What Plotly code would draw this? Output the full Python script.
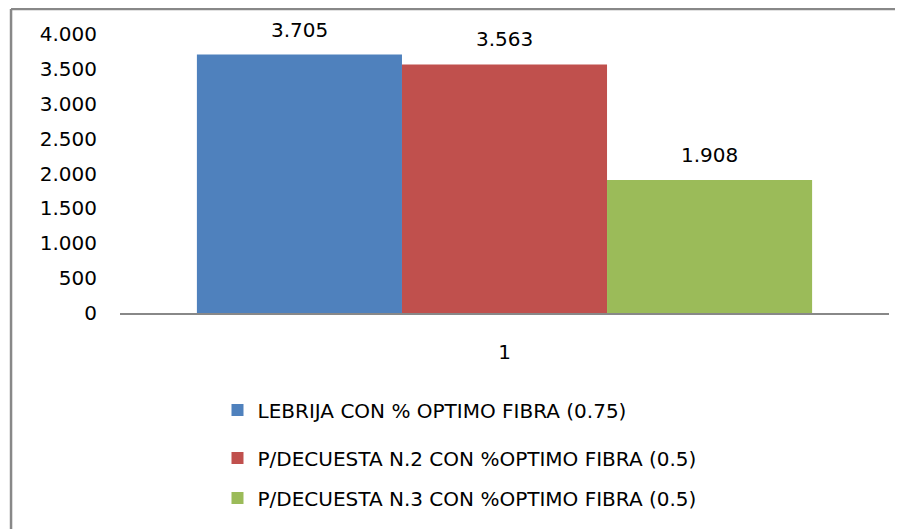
import plotly.graph_objects as go

categories = ["1"]
series_names = [
    "LEBRIJA CON % OPTIMO FIBRA (0.75)",
    "P/DECUESTA N.2 CON %OPTIMO FIBRA (0.5)",
    "P/DECUESTA N.3 CON %OPTIMO FIBRA (0.5)",
]
series_values = [3705, 3563, 1908]
series_labels = ["3.705", "3.563", "1.908"]
colors = ["#4F81BD", "#C0504D", "#9BBB59"]
tick_vals = [0, 500, 1000, 1500, 2000, 2500, 3000, 3500, 4000]
tick_text = ["0", "500", "1.000", "1.500", "2.000", "2.500", "3.000", "3.500", "4.000"]

FONT = "DejaVu Sans"
FS = 20
legend_ids = ["legend", "legend2", "legend3"]

fig = go.Figure()
for name, val, col, lg in zip(series_names, series_values, colors, legend_ids):
    fig.add_trace(go.Bar(
        x=categories, y=[val], name=name, marker_color=col,
        marker_line_width=0, legend=lg,
    ))

shifts = [-205, 0, 205]
for val, lab, sh in zip(series_values, series_labels, shifts):
    fig.add_annotation(x=0, y=val, xref="x", yref="y", text=lab,
                       showarrow=False, xshift=sh, yshift=25, yanchor="middle",
                       font=dict(family=FONT, size=FS, color="#000"))

legend_y = [1 - 402 / 529, 1 - 450 / 529, 1 - 490 / 529]
leg_common = dict(x=0.232, xref="container", yref="container",
                  xanchor="left", yanchor="middle",
                  font=dict(family=FONT, size=FS, color="#000"),
                  bgcolor="rgba(0,0,0,0)", borderwidth=0)
fig.update_layout(
    legend=dict(y=legend_y[0], **leg_common),
    legend2=dict(y=legend_y[1], **leg_common),
    legend3=dict(y=legend_y[2], **leg_common),
)

fig.update_layout(
    width=903, height=529,
    margin=dict(l=112, r=22, t=26, b=224, autoexpand=False),
    paper_bgcolor="white", plot_bgcolor="white",
    barmode="group", bargap=0.2, bargroupgap=0,
    showlegend=True,
    font=dict(family=FONT, size=FS, color="#000"),
    xaxis=dict(type="category", showgrid=False, showline=True, linecolor="#888",
               linewidth=1.5, ticks="", tickfont=dict(family=FONT, size=FS),
               ticklabelstandoff=20, zeroline=False),
    yaxis=dict(range=[0, 4000], tickvals=tick_vals, ticktext=tick_text,
               showgrid=False, showline=False, zeroline=False, ticks="",
               tickfont=dict(family=FONT, size=FS), ticklabelstandoff=22),
    shapes=[
        dict(type="line", xref="paper", yref="paper", x0=-0.1417, x1=1.1,
             y0=1.0896, y1=1.0896, line=dict(color="#888", width=2.5)),
        dict(type="line", xref="paper", yref="paper", x0=-0.1417, x1=-0.1417,
             y0=1.0896, y1=-0.9, line=dict(color="#888", width=2.5)),
    ],
)

fig.write_html("out.html")
